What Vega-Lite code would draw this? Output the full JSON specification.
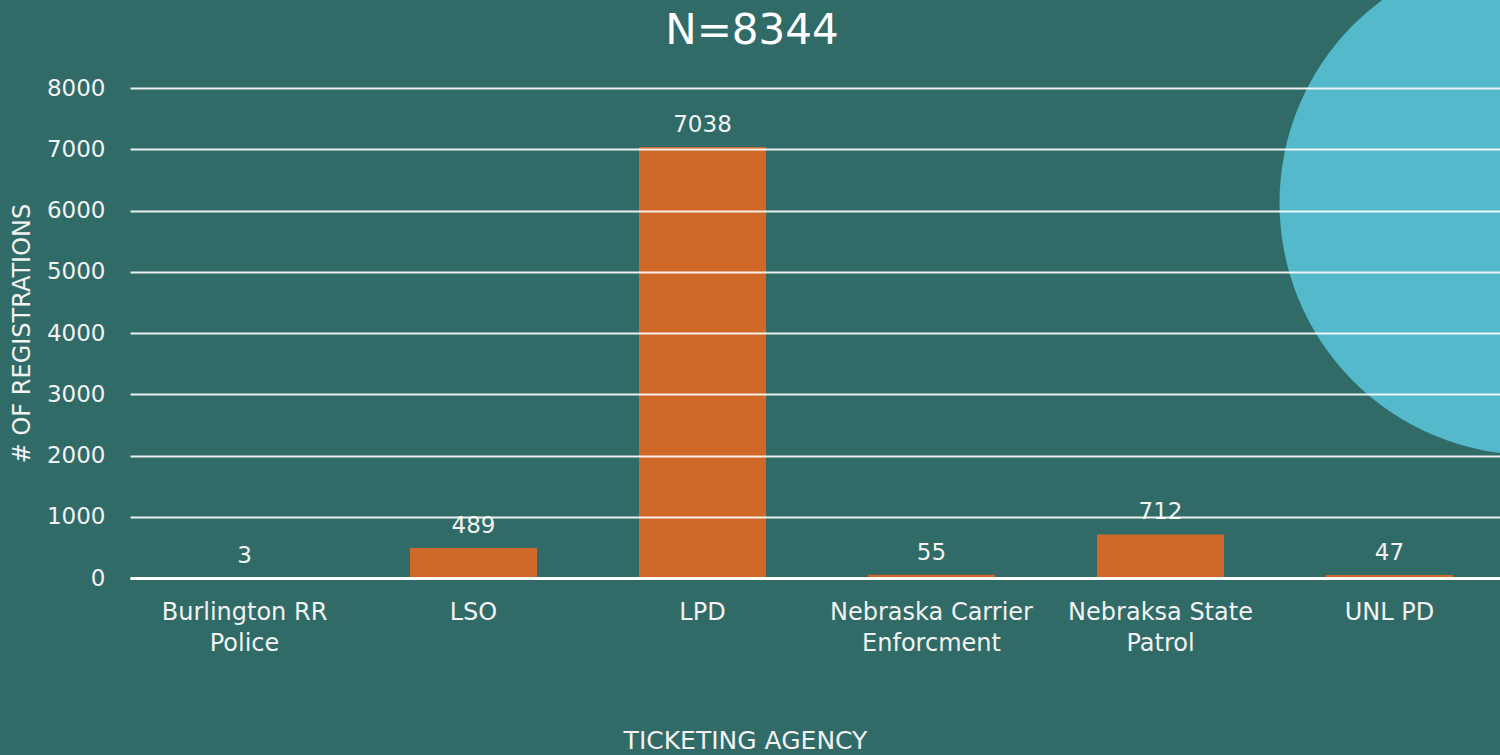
{
  "$schema": "https://vega.github.io/schema/vega-lite/v6.json",
  "width": 1374,
  "height": 490,
  "autosize": {"type": "none"},
  "padding": {"left": 130, "top": 88, "right": 0, "bottom": 177},
  "background": "#306b67",
  "title": {
    "text": "N=8344",
    "fontSize": 42,
    "font": "DejaVu Sans",
    "fontWeight": "normal",
    "color": "#ffffff",
    "baseline": "bottom",
    "dx": -65,
    "offset": 0,
    "dy": 144
  },
  "config": {
    "view": {"stroke": null},
    "font": "DejaVu Sans"
  },
  "datasets": {
    "agencies": [
      {"agency": "Burlington RR Police", "registrations": 3},
      {"agency": "LSO", "registrations": 489},
      {"agency": "LPD", "registrations": 7038},
      {"agency": "Nebraska Carrier Enforcment", "registrations": 55},
      {"agency": "Nebraksa State Patrol", "registrations": 712},
      {"agency": "UNL PD", "registrations": 47}
    ],
    "decor": [
      {"agency": "UNL PD", "registrations": 6122}
    ]
  },
  "encoding": {
    "x": {
      "field": "agency",
      "type": "nominal",
      "sort": ["Burlington RR Police", "LSO", "LPD", "Nebraska Carrier Enforcment", "Nebraksa State Patrol", "UNL PD"],
      "scale": {"paddingInner": 0.445, "paddingOuter": 0.2225},
      "axis": {
        "title": "TICKETING AGENCY",
        "titleFontSize": 25,
        "titleFontWeight": "normal",
        "titleColor": "#f2f2f2",
        "titleX": 615,
        "titleY": 162,
        "titleBaseline": "middle",
        "labelAngle": 0,
        "labelFontSize": 24,
        "labelColor": "#f2f2f2",
        "labelPadding": 22,
        "labelLineHeight": 31,
        "labelLimit": 400,
        "labelExpr": "datum.value == 'Burlington RR Police' ? ['Burlington RR', 'Police'] : datum.value == 'Nebraska Carrier Enforcment' ? ['Nebraska Carrier', 'Enforcment'] : datum.value == 'Nebraksa State Patrol' ? ['Nebraksa State', 'Patrol'] : datum.value",
        "ticks": false,
        "domain": true,
        "domainColor": "#ffffff",
        "domainWidth": 3,
        "grid": false,
        "zindex": 1
      }
    },
    "y": {
      "field": "registrations",
      "type": "quantitative",
      "scale": {"domain": [0, 8000]},
      "axis": {
        "title": "# OF REGISTRATIONS",
        "titleFontSize": 24,
        "titleFontWeight": "normal",
        "titleColor": "#f2f2f2",
        "titlePadding": 12,
        "values": [0, 1000, 2000, 3000, 4000, 5000, 6000, 7000, 8000],
        "format": "d",
        "labelFontSize": 23,
        "labelColor": "#f2f2f2",
        "labelPadding": 25,
        "ticks": false,
        "domain": false,
        "grid": true,
        "gridColor": "#ffffff",
        "gridWidth": 2,
        "gridOpacity": 0.9,
        "zindex": 1
      }
    }
  },
  "layer": [
    {
      "data": {"name": "decor"},
      "mark": {"type": "point", "filled": true, "opacity": 1, "color": "#54b9cb", "size": 254016, "xOffset": 142, "strokeWidth": 0}
    },
    {
      "data": {"name": "agencies"},
      "mark": {"type": "bar", "color": "#d0682a"}
    },
    {
      "data": {"name": "agencies"},
      "mark": {"type": "text", "baseline": "alphabetic", "dy": -15, "fontSize": 23, "color": "#f2f2f2"},
      "encoding": {
        "text": {"field": "registrations", "type": "quantitative"}
      }
    }
  ]
}
